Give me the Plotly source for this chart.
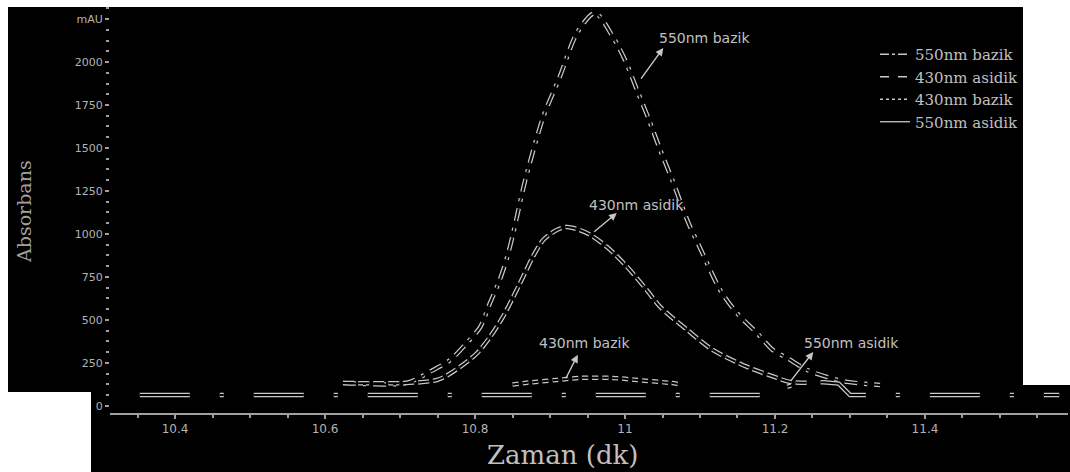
import plotly.graph_objects as go

# ---------------- data ----------------
series_names = ["550nm bazik", "430nm asidik", "430nm bazik", "550nm asidik"]

t_550_bazik = [10.624, 10.709, 10.744, 10.767, 10.789, 10.807, 10.820, 10.833, 10.843, 10.851,
               10.857, 10.867, 10.891, 10.913, 10.936, 10.960, 10.984, 11.000, 11.016, 11.031,
               11.047, 11.063, 11.084, 11.100, 11.127, 11.149, 11.176, 11.197, 11.216, 11.243,
               11.269, 11.296, 11.340]
v_550_bazik = [134, 134, 209, 267, 366, 459, 599, 733, 866, 1006,
               1122, 1314, 1680, 1913, 2169, 2285, 2145, 2012, 1837, 1675,
               1488, 1314, 1070, 919, 674, 541, 424, 326, 279, 209,
               169, 140, 122]

t_430_asidik = [10.624, 10.749, 10.780, 10.803, 10.820, 10.837, 10.851, 10.864, 10.877, 10.891,
                10.909, 10.923, 10.949, 10.976, 11.003, 11.029, 11.047, 11.083, 11.117, 11.163,
                11.203, 11.220, 11.247]
v_430_asidik = [134, 151, 227, 308, 401, 517, 634, 750, 866, 965,
                1023, 1041, 1006, 924, 808, 674, 576, 442, 326, 227,
                163, 140, 134]

t_430_bazik = [10.850, 10.867, 10.909, 10.940, 10.984, 11.016, 11.060, 11.075]
v_430_bazik = [125, 134, 151, 163, 163, 151, 134, 125]

t_550_asidik = [10.353, 11.200, 11.215, 11.235, 11.265, 11.285, 11.300, 11.579]
v_550_asidik = [64, 64, 110, 135, 138, 130, 64, 64]

y_tickvals = [0, 250, 500, 750, 1000, 1250, 1500, 1750, 2000, 2250]
y_ticktext = ["0", "250", "500", "750", "1000", "1250", "1500", "1750", "2000", "mAU"]
x_tickvals = [10.4, 10.6, 10.8, 11.0, 11.2, 11.4]
x_ticktext = ["10.4", "10.6", "10.8", "11", "11.2", "11.4"]

# ---------------- geometry helpers (layout only) ----------------
W, H = 1070, 472
L, R, T, B = 110, 1068, 8, 413


def px_x(p):
    return (p - L) / (R - L)


def px_y(p):
    return (B - p) / (B - T)


LINE = "#c8c8c8"
TXT = "#c0c0c0"

series = [
    (series_names[0], t_550_bazik, v_550_bazik, "13px,7px,3px,7px", "dashdot", "spline"),
    (series_names[1], t_430_asidik, v_430_asidik, "11px,4px", "dash", "spline"),
    (series_names[2], t_430_bazik, v_430_bazik, "6px,4px", "dot", "spline"),
    (series_names[3], t_550_asidik, v_550_asidik, "50px,30px,4px,30px", "solid", "linear"),
]

fig = go.Figure()

# outer (light) strokes
for name, tx, vy, dash, _, shape in series:
    fig.add_trace(go.Scatter(x=tx, y=vy, mode="lines", name=name, showlegend=False,
                             line=dict(color=LINE, width=4.5, dash=dash, shape=shape, smoothing=0.8),
                             hoverinfo="skip"))
# inner (dark) strokes -> outline look
for name, tx, vy, dash, _, shape in series:
    fig.add_trace(go.Scatter(x=tx, y=vy, mode="lines", name=name, showlegend=False,
                             line=dict(color="black", width=2, dash=dash, shape=shape, smoothing=0.8),
                             hoverinfo="skip"))
# legend entries
for name, tx, vy, dash, ldash, shape in series:
    fig.add_trace(go.Scatter(x=[None], y=[None], mode="lines", name=name, showlegend=True,
                             line=dict(color=LINE, width=1.3, dash=ldash)))

# background: black page with white margins as in the reference
shapes = []
for x0, y0, x1, y1 in [(0, 0, W, 7), (0, 0, 8, 392), (0, 392, 91, H), (1023, 0, W, 385)]:
    shapes.append(dict(type="rect", xref="paper", yref="paper", layer="below",
                       x0=px_x(x0), x1=px_x(x1), y0=px_y(y1), y1=px_y(y0),
                       fillcolor="white", line=dict(width=0)))

annotations = []
# curve labels
labels = [
    ("550nm bazik", 11.043, 2140, 11.051, 2081, 11.020, 1895),
    ("430nm asidik", 10.949, 1169, 10.989, 1122, 10.957, 1006),
    ("430nm bazik", 10.883, 366, 10.937, 297, 10.920, 151),
    ("550nm asidik", 11.236, 366, 11.251, 314, 11.220, 140),
]
for txt, tx, ty, hx, hy, sx, sy in labels:
    annotations.append(dict(x=tx, y=ty, xref="x", yref="y", text=txt, showarrow=False,
                            xanchor="left", yanchor="middle",
                            font=dict(family="DejaVu Sans", size=14, color=TXT)))
    annotations.append(dict(x=hx, y=hy, xref="x", yref="y", ax=sx, ay=sy, axref="x", ayref="y",
                            text="", showarrow=True, arrowhead=2, arrowsize=1.1, arrowwidth=1.4,
                            arrowcolor=LINE, standoff=0, startstandoff=0))
# axis titles
annotations.append(dict(x=px_x(562), y=px_y(455), xref="paper", yref="paper", text="Zaman (dk)",
                        showarrow=False, xanchor="center", yanchor="middle",
                        font=dict(family="DejaVu Serif", size=26, color=TXT)))
annotations.append(dict(x=px_x(24), y=px_y(212), xref="paper", yref="paper", text="Absorbans",
                        showarrow=False, xanchor="center", yanchor="middle", textangle=-90,
                        font=dict(family="DejaVu Serif", size=19, color="#a0a0a0")))

fig.update_layout(
    width=W, height=H,
    margin=dict(l=L, r=W - R, t=T, b=H - B, pad=0),
    paper_bgcolor="black",
    plot_bgcolor="rgba(0,0,0,0)",
    shapes=shapes,
    annotations=annotations,
    showlegend=True,
    legend=dict(x=px_x(1024), y=px_y(38), xanchor="right", yanchor="top",
                bgcolor="rgba(0,0,0,0)", font=dict(family="DejaVu Serif", size=15, color=TXT),
                itemwidth=30, tracegroupgap=0),
    xaxis=dict(range=[10.3133, 11.5907], showgrid=False, zeroline=False,
               showline=True, linecolor="#a0a0a0", linewidth=2,
               tickmode="array", tickvals=x_tickvals, ticktext=x_ticktext,
               ticks="outside", ticklen=4, tickcolor="#a0a0a0", tickwidth=1.5,
               minor=dict(dtick=0.05, tick0=10.4, ticks="outside", ticklen=3, tickcolor="#a0a0a0"),
               tickfont=dict(family="DejaVu Sans", size=12, color="#b4b4b4")),
    yaxis=dict(range=[-41, 2314], showgrid=False, zeroline=False, showline=False,
               tickmode="array", tickvals=y_tickvals, ticktext=y_ticktext,
               ticks="outside", ticklen=4, tickcolor="#a0a0a0", tickwidth=1.5,
               minor=dict(dtick=62.5, tick0=0, ticks="outside", ticklen=3, tickcolor="#a0a0a0"),
               tickfont=dict(family="DejaVu Sans", size=11, color="#b4b4b4")),
)

fig.write_html("out.html")
